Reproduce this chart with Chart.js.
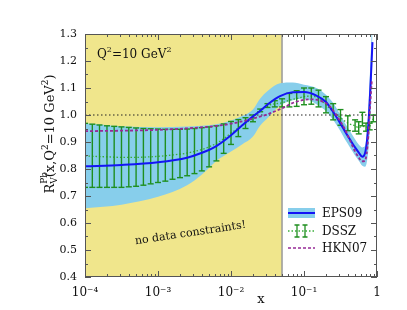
<!DOCTYPE html>
<html>
<head>
<meta charset="utf-8">
<script src="https://cdn.jsdelivr.net/npm/chart.js@4"></script>
<style>
  html, body { margin: 0; padding: 0; background: #fff; }
</style>
</head>
<body>
<canvas id="chart" width="407" height="310"></canvas>
<script>
// ==================== DATA ====================
const epsX = [1e-4, 3.16e-4, 1e-3, 2.5e-3, 4e-3, 6.3e-3, 0.01, 0.014, 0.02, 0.025, 0.032, 0.047,
  0.07, 0.1, 0.148, 0.2, 0.25, 0.316, 0.363, 0.427, 0.5, 0.566, 0.63, 0.685, 0.73, 0.777, 0.828, 0.867];
const epsCentral = [0.81, 0.815, 0.825, 0.842, 0.86, 0.885, 0.925, 0.96, 0.995, 1.015, 1.04, 1.07,
  1.084, 1.085, 1.072, 1.048, 1.012, 0.968, 0.94, 0.909, 0.88, 0.86, 0.845, 0.858, 0.905, 1.0, 1.15, 1.27];
const epsUpper = [0.969, 0.958, 0.955, 0.957, 0.96, 0.966, 0.98, 0.995, 1.02, 1.06, 1.09, 1.118,
  1.12, 1.112, 1.1, 1.075, 1.045, 1.0, 0.97, 0.94, 0.91, 0.89, 0.88, 0.885, 0.95, 1.08, 1.25, 1.4];
const epsLower = [0.655, 0.668, 0.697, 0.74, 0.78, 0.83, 0.865, 0.89, 0.92, 0.96, 0.99, 1.035,
  1.055, 1.06, 1.04, 1.015, 0.982, 0.94, 0.91, 0.88, 0.85, 0.83, 0.812, 0.808, 0.83, 0.9, 1.05, 1.2];

const dsszX = [1e-4, 1.26e-4, 1.58e-4, 2e-4, 2.51e-4, 3.16e-4, 3.98e-4, 5.01e-4, 6.31e-4, 7.94e-4,
  1e-3, 1.26e-3, 1.58e-3, 2e-3, 2.51e-3, 3.16e-3, 3.98e-3, 5.01e-3, 6.31e-3, 7.94e-3,
  0.01, 0.0126, 0.0158, 0.02, 0.0251, 0.0316, 0.0398, 0.0501, 0.0631, 0.0794,
  0.1, 0.126, 0.158, 0.2, 0.251, 0.316, 0.398, 0.501, 0.562, 0.631, 0.708, 0.794, 0.891];
const dsszCentral = [0.848, 0.847, 0.846, 0.845, 0.844, 0.843, 0.843, 0.843, 0.844, 0.845,
  0.847, 0.849, 0.852, 0.855, 0.859, 0.865, 0.872, 0.882, 0.895, 0.912,
  0.933, 0.952, 0.97, 0.988, 1.017, 1.035, 1.041, 1.045, 1.055, 1.061,
  1.068, 1.07, 1.062, 1.038, 1.012, 0.99, 0.97, 0.96, 0.953, 0.958, 0.955, 0.958, 0.987];
const dsszHigh = [0.969, 0.966, 0.963, 0.96, 0.958, 0.956, 0.954, 0.952, 0.95, 0.949,
  0.948, 0.947, 0.947, 0.947, 0.948, 0.95, 0.953, 0.956, 0.96, 0.967,
  0.976, 0.983, 0.99, 1.0, 1.022, 1.042, 1.053, 1.06, 1.08, 1.09,
  1.1, 1.1, 1.092, 1.068, 1.042, 1.02, 0.997, 0.982, 0.975, 1.01, 0.97, 0.97, 1.0];
const dsszLow = [0.732, 0.732, 0.732, 0.732, 0.732, 0.732, 0.734, 0.736, 0.74, 0.745,
  0.75, 0.755, 0.762, 0.768, 0.775, 0.783, 0.793, 0.808, 0.83, 0.858,
  0.891, 0.92, 0.95, 0.975, 1.012, 1.028, 1.03, 1.03, 1.03, 1.032,
  1.038, 1.04, 1.03, 1.008, 0.982, 0.962, 0.942, 0.94, 0.93, 0.96, 0.94, 0.945, 0.975];

const hknX = [1e-4, 1e-3, 3e-3, 6.5e-3, 0.012, 0.02, 0.032, 0.05, 0.076, 0.12, 0.17, 0.23,
  0.3, 0.36, 0.42, 0.5, 0.57, 0.62, 0.68, 0.72, 0.76, 0.8, 0.85];
const hknY = [0.94, 0.945, 0.952, 0.96, 0.972, 0.987, 1.003, 1.025, 1.048, 1.058, 1.052, 1.03,
  0.985, 0.95, 0.91, 0.865, 0.84, 0.828, 0.83, 0.855, 0.92, 1.02, 1.13];

const xTickValues = [1e-4, 1e-3, 1e-2, 1e-1, 1];
const xTickLabels = ['10\u207B\u2074', '10\u207B\u00B3', '10\u207B\u00B2', '10\u207B\u00B9', '1'];
const yTickValues = [0.4, 0.5, 0.6, 0.7, 0.8, 0.9, 1.0, 1.1, 1.2, 1.3];
const noDataLimit = 0.05;   // left of this: no data constraints
const seriesLabels = ['EPS09', 'DSSZ', 'HKN07'];

// ==================== STYLE ====================
const FONT = '"DejaVu Serif", serif';
const KHAKI = '#F0E68C';
const SKY = '#87CEEB';
const BLUE = '#1414F5';
const GREEN = '#1F8F1F';
const GREEN_LIGHT = '#3AAE3A';
const PURPLE = '#962A96';

const pts = (xs, ys) => xs.map((x, i) => ({ x: x, y: ys[i] }));

// error bars: low -> high, then a null to break the line
const errorBarPoints = [];
dsszX.forEach((x, i) => {
  errorBarPoints.push({ x: x, y: dsszLow[i] }, { x: x, y: dsszHigh[i] }, { x: x, y: null });
});

// ==================== RICH TEXT HELPER ====================
// runs: [text, size, dy, noAdvance]
function richText(ctx, runs, x, y, align) {
  let w = 0;
  runs.forEach(r => {
    ctx.font = r[1] + 'px ' + FONT;
    if (!r[3]) w += ctx.measureText(r[0]).width;
  });
  let cx = align === 'center' ? x - w / 2 : x;
  runs.forEach(r => {
    ctx.font = r[1] + 'px ' + FONT;
    ctx.fillText(r[0], cx, y + r[2]);
    if (!r[3]) cx += ctx.measureText(r[0]).width;
  });
}

// ==================== FRAME + INWARD TICKS ====================
const frameTicks = {
  id: 'frameTicks',
  afterDatasetsDraw(chart) {
    const { ctx, chartArea: a, scales: { x, y } } = chart;
    ctx.save();
    ctx.strokeStyle = '#555';
    ctx.lineWidth = 1;
    ctx.beginPath();
    // y ticks, major and minor, both sides
    yTickValues.forEach((v, i) => {
      const py = Math.round(y.getPixelForValue(v)) + 0.5;
      ctx.moveTo(a.left, py); ctx.lineTo(a.left + 6, py);
      ctx.moveTo(a.right, py); ctx.lineTo(a.right - 6, py);
      if (i < yTickValues.length - 1) {
        const pm = Math.round(y.getPixelForValue(v + 0.05)) + 0.5;
        ctx.moveTo(a.left, pm); ctx.lineTo(a.left + 3, pm);
        ctx.moveTo(a.right, pm); ctx.lineTo(a.right - 3, pm);
      }
    });
    // x ticks, decades and 2..9
    xTickValues.forEach((v, i) => {
      const px = Math.round(x.getPixelForValue(v)) + 0.5;
      ctx.moveTo(px, a.bottom); ctx.lineTo(px, a.bottom - 6);
      ctx.moveTo(px, a.top); ctx.lineTo(px, a.top + 6);
      if (i < xTickValues.length - 1) {
        for (let m = 2; m <= 9; m++) {
          const pm = Math.round(x.getPixelForValue(v * m)) + 0.5;
          ctx.moveTo(pm, a.bottom); ctx.lineTo(pm, a.bottom - 3);
          ctx.moveTo(pm, a.top); ctx.lineTo(pm, a.top + 3);
        }
      }
    });
    ctx.stroke();
    ctx.strokeRect(a.left + 0.5, a.top + 0.5, a.right - a.left - 1, a.bottom - a.top - 1);
    ctx.restore();
  }
};

// ==================== TEXT + LEGEND ====================
const annotations = {
  id: 'annotations',
  afterDraw(chart) {
    const { ctx } = chart;
    ctx.save();
    ctx.fillStyle = '#111';
    ctx.textBaseline = 'alphabetic';

    // Q^2 label
    richText(ctx, [['Q', 12, 0], ['2', 8, -6], ['=10 GeV', 12, 0], ['2', 8, -6]], 97, 58, 'left');

    // y axis title
    ctx.save();
    ctx.translate(54, 134);
    ctx.rotate(-Math.PI / 2);
    richText(ctx, [['R', 13, 0], ['Pb', 9, -7, true], ['V', 9, 3], ['(x,Q', 13, 0], ['2', 9, -6],
      ['=10 GeV', 13, 0], ['2', 9, -6], [')', 13, 0]], 0, 0, 'center');
    ctx.restore();

    // x axis title
    ctx.font = '13px ' + FONT;
    ctx.textAlign = 'center';
    ctx.fillText('x', 261, 303);

    // rotated note
    ctx.save();
    ctx.translate(191, 236);
    ctx.rotate(-8.5 * Math.PI / 180);
    ctx.font = '11px ' + FONT;
    ctx.textAlign = 'center';
    ctx.fillText('no data constraints!', 0, 0);
    ctx.restore();

    // legend
    const lx0 = 288, lx1 = 315, tx = 322;
    const rows = [213, 231, 248];
    ctx.textAlign = 'left';
    ctx.textBaseline = 'middle';
    ctx.font = '12px ' + FONT;
    seriesLabels.forEach((lab, i) => ctx.fillText(lab, tx, rows[i] + 1));

    // EPS09: band + line
    ctx.fillStyle = SKY;
    ctx.fillRect(lx0, rows[0] - 5, lx1 - lx0, 10);
    ctx.strokeStyle = BLUE;
    ctx.lineWidth = 2;
    ctx.beginPath(); ctx.moveTo(lx0, rows[0]); ctx.lineTo(lx1, rows[0]); ctx.stroke();

    // DSSZ: dotted line + error bars
    ctx.strokeStyle = GREEN_LIGHT;
    ctx.lineWidth = 1.3;
    ctx.setLineDash([1.5, 2]);
    ctx.beginPath(); ctx.moveTo(lx0, rows[1]); ctx.lineTo(lx1, rows[1]); ctx.stroke();
    ctx.setLineDash([]);
    ctx.strokeStyle = GREEN;
    ctx.beginPath();
    [297, 305].forEach(bx => {
      ctx.moveTo(bx, rows[1] - 6); ctx.lineTo(bx, rows[1] + 6);
      ctx.moveTo(bx - 2.5, rows[1] - 6); ctx.lineTo(bx + 2.5, rows[1] - 6);
      ctx.moveTo(bx - 2.5, rows[1] + 6); ctx.lineTo(bx + 2.5, rows[1] + 6);
    });
    ctx.stroke();

    // HKN07: dashed purple
    ctx.strokeStyle = PURPLE;
    ctx.lineWidth = 1.6;
    ctx.setLineDash([3, 2]);
    ctx.beginPath(); ctx.moveTo(lx0, rows[2]); ctx.lineTo(lx1, rows[2]); ctx.stroke();
    ctx.restore();
  }
};

// ==================== CHART ====================
const ctx = document.getElementById('chart');
new Chart(ctx, {
  type: 'line',
  data: {
    datasets: [
      { // HKN07
        label: seriesLabels[2], data: pts(hknX, hknY),
        borderColor: PURPLE, borderWidth: 1.8, borderDash: [3, 2],
        pointRadius: 0, cubicInterpolationMode: 'monotone', fill: false
      },
      { // EPS09 central
        label: seriesLabels[0], data: pts(epsX, epsCentral),
        borderColor: BLUE, borderWidth: 2,
        pointRadius: 0, cubicInterpolationMode: 'monotone', fill: false
      },
      { // DSSZ error bars
        label: 'DSSZ errors', data: errorBarPoints,
        borderColor: GREEN, borderWidth: 1.4, spanGaps: false, tension: 0,
        pointStyle: 'line', pointRadius: 3, pointBorderColor: GREEN, pointBorderWidth: 1.4,
        fill: false
      },
      { // DSSZ central
        label: seriesLabels[1], data: pts(dsszX, dsszCentral),
        borderColor: GREEN_LIGHT, borderWidth: 1.3, borderDash: [1.5, 2],
        pointRadius: 0, cubicInterpolationMode: 'monotone', fill: false
      },
      { // R = 1 reference
        label: 'unity', data: [{ x: 1e-4, y: 1 }, { x: 1, y: 1 }],
        borderColor: '#222', borderWidth: 1.2, borderDash: [1.5, 2.5],
        pointRadius: 0, fill: false
      },
      { // EPS09 band upper
        label: 'EPS09 up', data: pts(epsX, epsUpper),
        borderColor: 'rgba(0,0,0,0)', borderWidth: 0, backgroundColor: SKY,
        pointRadius: 0, cubicInterpolationMode: 'monotone', fill: '+1'
      },
      { // EPS09 band lower
        label: 'EPS09 low', data: pts(epsX, epsLower),
        borderColor: 'rgba(0,0,0,0)', borderWidth: 0,
        pointRadius: 0, cubicInterpolationMode: 'monotone', fill: false
      },
      { // edge of the unconstrained region
        label: 'edge', data: [{ x: noDataLimit, y: 0.4 }, { x: noDataLimit, y: 1.3 }],
        borderColor: '#999', borderWidth: 1.5, pointRadius: 0, fill: false
      },
      { // unconstrained region
        label: 'no data', data: [{ x: 1e-4, y: 1.3 }, { x: noDataLimit, y: 1.3 }],
        borderColor: 'rgba(0,0,0,0)', borderWidth: 0, backgroundColor: KHAKI,
        pointRadius: 0, fill: 'start'
      }
    ]
  },
  options: {
    responsive: false,
    animation: false,
    events: [],
    layout: { padding: { left: 0, right: 30, top: 34, bottom: 0 } },
    plugins: {
      legend: { display: false },
      tooltip: { enabled: false }
    },
    scales: {
      x: {
        type: 'logarithmic', min: 1e-4, max: 1,
        grid: { display: false, drawTicks: false },
        border: { display: false },
        afterBuildTicks: (s) => { s.ticks = xTickValues.map(v => ({ value: v })); },
        afterFit: (s) => { s.height = 33; },
        ticks: {
          autoSkip: false, maxRotation: 0, padding: 9, color: '#111',
          font: { family: FONT, size: 12 },
          callback: (v, i) => xTickLabels[i]
        }
      },
      y: {
        type: 'linear', min: 0.4, max: 1.3,
        grid: { display: false, drawTicks: false },
        border: { display: false },
        afterBuildTicks: (s) => { s.ticks = yTickValues.map(v => ({ value: v })); },
        afterFit: (s) => { s.width = 85; },
        ticks: {
          padding: 8, color: '#111',
          font: { family: FONT, size: 11 },
          callback: (v) => v.toFixed(1)
        }
      }
    }
  },
  plugins: [frameTicks, annotations]
});
</script>
</body>
</html>
